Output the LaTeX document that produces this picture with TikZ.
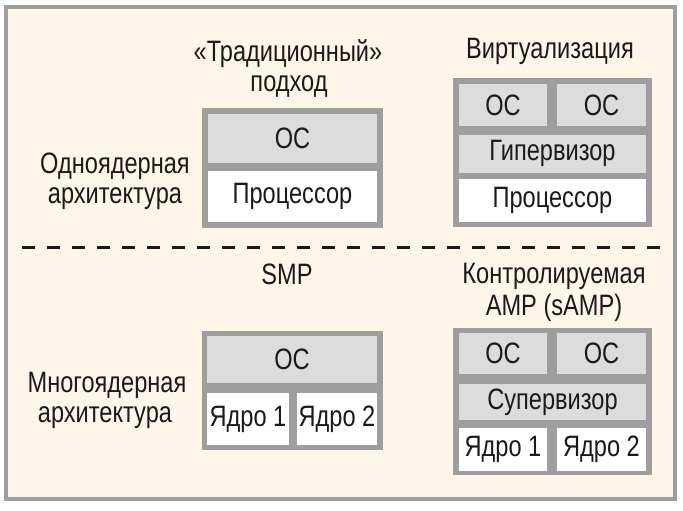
\documentclass[tikz,border=0pt]{standalone}
\usepackage{fontspec}
\setmainfont{Liberation Sans}[FakeStretch=0.8]
\definecolor{cream}{HTML}{FEF6E9}
\definecolor{frameg}{HTML}{9E9E9E}
\definecolor{lightg}{HTML}{DCDCDC}
\definecolor{ink}{HTML}{1A1A1A}
\begin{document}
\begin{tikzpicture}[x=1pt,y=-1pt,
  every node/.style={text=ink,font=\fontsize{29.5}{30}\selectfont},
  lbl/.style={anchor=base,inner sep=0pt},
  outerbox/.style={fill=frameg,draw=none},
  graybox/.style={fill=lightg,draw=none,inner sep=0pt},
  whitebox/.style={fill=white,draw=none,inner sep=0pt}]
\useasboundingbox (0,0) rectangle (683,511);
\fill[white] (0,0) rectangle (683,511);
\draw[frameg,line width=4pt,fill=cream] (6,7) rectangle (675,499);
% dashed separator
\coordinate (dl) at (22,247);
\coordinate (dr) at (662,247);
\draw[ink,line width=3pt,dash pattern=on 13pt off 12pt] (dl) -- (dr);
% labels
\node[lbl] (t1a) at (288,62) {«Традиционный»};
\node[lbl] (t1b) at (289,92) {подход};
\node[lbl] (t2) at (550,59) {Виртуализация};
\node[lbl] (l1a) at (115,173) {Одноядерная};
\node[lbl] (l1b) at (115,203) {архитектура};
\node[lbl] (t3) at (287,284) {SMP};
\node[lbl] (t4a) at (554,283) {Контролируемая};
\node[lbl] (t4b) at (554,315) {AMP (sAMP)};
\node[lbl] (l2a) at (107,392) {Многоядерная};
\node[lbl] (l2b) at (105,422) {архитектура};
% box 1: traditional
\fill[outerbox] (202,108) rectangle (383,228);
\node[graybox,minimum width=169pt,minimum height=49pt] (b1os) at (292.5,138.5) {ОС};
\node[whitebox,minimum width=169pt,minimum height=51pt] (b1cpu) at (292.5,196.5) {Процессор};
% box 2: virtualization
\fill[outerbox] (453,78) rectangle (652,227);
\node[graybox,minimum width=88pt,minimum height=42pt] (b2os1) at (503,105) {ОС};
\node[graybox,minimum width=89pt,minimum height=42pt] (b2os2) at (601.5,105) {ОС};
\node[graybox,minimum width=187pt,minimum height=38pt] (b2hv) at (552.5,153.5) {Гипервизор};
\node[whitebox,minimum width=187pt,minimum height=43pt] (b2cpu) at (552.5,200.5) {Процессор};
% box 3: SMP
\fill[outerbox] (202,331) rectangle (383,450);
\node[graybox,minimum width=170pt,minimum height=47pt] (b3os) at (292,359.5) {ОС};
\node[whitebox,minimum width=82pt,minimum height=52pt] (b3c1) at (248,419) {Ядро 1};
\node[whitebox,minimum width=80pt,minimum height=52pt] (b3c2) at (337,419) {Ядро 2};
% box 4: sAMP
\fill[outerbox] (453,328) rectangle (652,475);
\node[graybox,minimum width=88pt,minimum height=41pt] (b4os1) at (503,353.5) {ОС};
\node[graybox,minimum width=89pt,minimum height=41pt] (b4os2) at (601.5,353.5) {ОС};
\node[graybox,minimum width=187pt,minimum height=36pt] (b4sv) at (552.5,402) {Супервизор};
\node[whitebox,minimum width=88pt,minimum height=43pt] (b4c1) at (503,449.5) {Ядро 1};
\node[whitebox,minimum width=89pt,minimum height=43pt] (b4c2) at (601.5,449.5) {Ядро 2};
\end{tikzpicture}
\end{document}
